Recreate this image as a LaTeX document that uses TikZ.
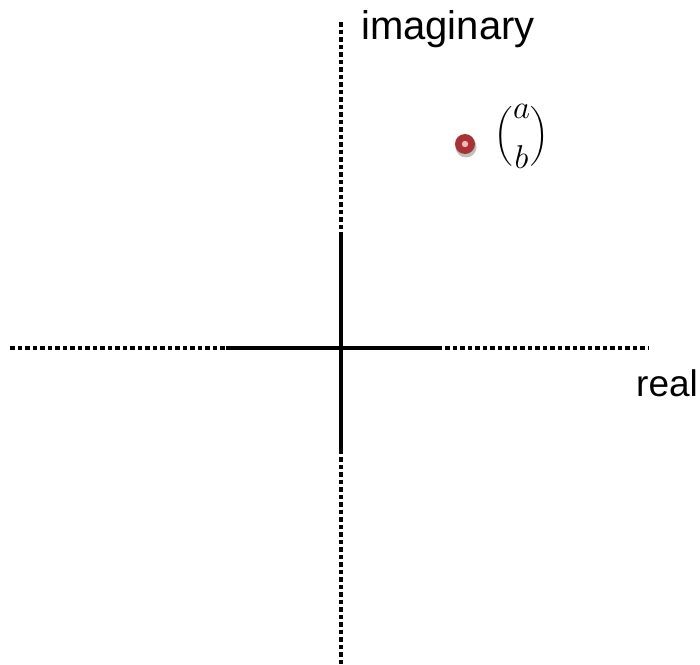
\RequirePackage{fix-cm}
\documentclass[tikz,border=0pt]{standalone}
\usepackage{fontspec}
\setmainfont{Liberation Sans}
\usepackage{amsmath}
\definecolor{ptred}{HTML}{A83236}
\definecolor{ptpink}{HTML}{F2B8B8}
\tikzset{
  dotaxis/.style={line width=4.5pt, dash pattern=on 4.5pt off 3pt},
  solidaxis/.style={line width=4.8pt},
  lbl/.style={inner sep=0pt},
}
\newcommand{\colvec}[2]{\left(\vcenter{\baselineskip=50pt\lineskiplimit=-100pt
  \hbox to 18pt{\hss$#1$\hss}\hbox to 18pt{\hss$#2$\hss}}\right)}
\begin{document}
\begin{tikzpicture}[x=1pt,y=-1pt]
\useasboundingbox (0,0) rectangle (700,664);
% coordinates
\coordinate (hl) at (10,348);
\coordinate (hr) at (648,348);
\coordinate (sl) at (226,348);
\coordinate (sr) at (441,348);
\coordinate (vt) at (341,22);
\coordinate (vb) at (341,664);
\coordinate (st) at (341,234);
\coordinate (sb) at (341,451);
% dotted axes
\draw[dotaxis] (hl) -- (hr);
\draw[dotaxis] (vt) -- (vb);
% solid parts
\draw[solidaxis] (sl) -- (sr);
\draw[solidaxis] (st) -- (sb);
% labels
\node[lbl, anchor=base west, font=\fontsize{40}{44}\selectfont] (im) at (361,39) {imaginary};
\node[lbl, anchor=base west, font=\fontsize{37}{40}\selectfont] (re) at (636,396) {real};
% point
\fill[black!25] (466,147) circle (10.5);
\node[circle, fill=ptred, minimum size=20pt, inner sep=0pt] (pt) at (465,144) {};
\fill[ptpink] (pt.center) circle (3.2);
\node[inner sep=0pt, anchor=west, font=\fontsize{33}{36}\selectfont] (ab) at (494,136) {$\colvec{a}{b}$};
\end{tikzpicture}
\end{document}
